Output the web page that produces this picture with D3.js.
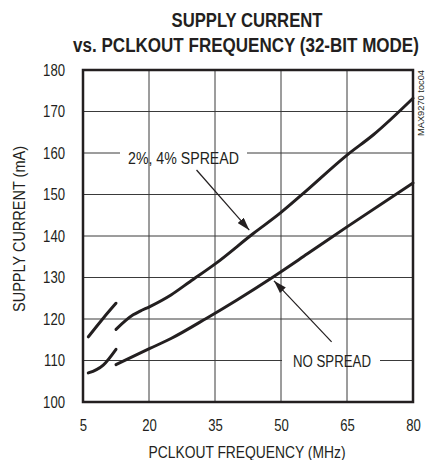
<!DOCTYPE html>
<html>
<head>
<meta charset="utf-8">
<script src="https://cdn.jsdelivr.net/npm/d3@7"></script>
<style>
  body { margin: 0; background: #fff; }
  text { font-family: "Liberation Sans", Arial, sans-serif; fill: #231f20; }
</style>
</head>
<body>
<script>
const w = 426;
const h = 460;
const margin = {top: 70, right: 13, bottom: 58, left: 83};

// x ticks (MHz) and y ticks (mA)
const xTicks = [5, 20, 35, 50, 65, 80];
const yTicks = [100, 110, 120, 130, 140, 150, 160, 170, 180];

// 2%, 4% spread: two pieces
const spreadLow = [[6.2, 115.7], [9.6, 120.2], [12.5, 123.8]];
const spreadHigh = [[12.5, 117.5], [16.4, 121.0], [18, 121.9], [20.2, 123.0], [25, 125.8],
                    [29.3, 129.0], [35.2, 133.4], [43.7, 140.6], [49.8, 145.5], [55, 150.2],
                    [65, 159.5], [71, 164.4], [80, 173.2]];
// no spread: two pieces
const noLow = [[6.2, 107.0], [9.6, 108.9], [12.5, 112.7]];
const noHigh = [[12.5, 109.0], [20.2, 112.9], [25, 115.3], [33.1, 120.2], [40, 124.6],
                [48.3, 130.2], [56, 135.7], [65, 142.2], [80, 152.8]];

const svg = d3.select("body")
    .append("svg")
    .attr("width", w)
    .attr("height", h);

const xScale = d3.scaleLinear()
    .domain([5, 80])
    .range([margin.left, w - margin.right]);

const yScale = d3.scaleLinear()
    .domain([100, 180])
    .range([h - margin.bottom, margin.top]);

// squeeze text horizontally to look like a condensed face
function condense(sel, f) {
    sel.each(function() {
        const len = this.getComputedTextLength();
        d3.select(this).attr("textLength", len * f).attr("lengthAdjust", "spacingAndGlyphs");
    });
}

// title: squeezed with a transform so its box is the drawn width
function titleLine(txt, cx, y, width) {
    const t = svg.append("text")
        .attr("text-anchor", "middle")
        .attr("font-size", 20).attr("font-weight", "bold")
        .text(txt);
    const f = width / t.node().getComputedTextLength();
    t.attr("transform", "translate(" + cx + "," + y + ") scale(" + f + ",1)");
}
titleLine("SUPPLY CURRENT", 247, 27, 151);
titleLine("vs. PCLKOUT FREQUENCY (32-BIT MODE)", 246, 52, 346);

// grid
const grid = svg.append("g").attr("stroke", "#3a3a3a").attr("stroke-width", 1);
xTicks.slice(1, -1).forEach(function(t) {
    grid.append("line")
        .attr("x1", xScale(t)).attr("x2", xScale(t))
        .attr("y1", yScale(100)).attr("y2", yScale(180));
});
yTicks.slice(1, -1).forEach(function(t) {
    if (t == 160) {
        // broken by the "2%, 4% SPREAD" label
        grid.append("line").attr("x1", xScale(5)).attr("x2", 120)
            .attr("y1", yScale(t)).attr("y2", yScale(t));
        grid.append("line").attr("x1", 247).attr("x2", xScale(80))
            .attr("y1", yScale(t)).attr("y2", yScale(t));
    } else if (t == 110) {
        // broken by the "NO SPREAD" label
        grid.append("line").attr("x1", xScale(5)).attr("x2", 282)
            .attr("y1", yScale(t)).attr("y2", yScale(t));
        grid.append("line").attr("x1", 380).attr("x2", xScale(80))
            .attr("y1", yScale(t)).attr("y2", yScale(t));
    } else {
        grid.append("line")
            .attr("x1", xScale(5)).attr("x2", xScale(80))
            .attr("y1", yScale(t)).attr("y2", yScale(t));
    }
});

// frame
svg.append("rect")
    .attr("x", xScale(5)).attr("y", yScale(180))
    .attr("width", xScale(80) - xScale(5))
    .attr("height", yScale(100) - yScale(180))
    .attr("fill", "none").attr("stroke", "#231f20").attr("stroke-width", 2.5);

// axes (labels only)
const xAxis = d3.axisBottom(xScale).tickValues(xTicks).tickSize(0).tickPadding(18);
svg.append("g")
    .attr("class", "xaxis")
    .attr("transform", "translate(0," + yScale(100) + ")")
    .call(xAxis)
    .call(function(g) { g.select(".domain").remove(); })
    .selectAll("text").attr("font-size", 16).attr("font-family", null);

const yAxis = d3.axisLeft(yScale).tickValues(yTicks).tickSize(0).tickPadding(18);
svg.append("g")
    .attr("class", "yaxis")
    .attr("transform", "translate(" + xScale(5) + ",0)")
    .call(yAxis)
    .call(function(g) { g.select(".domain").remove(); })
    .selectAll("text").attr("font-size", 16).attr("font-family", null);

svg.selectAll(".xaxis text, .yaxis text").style("fill", "#231f20");
condense(svg.selectAll(".xaxis text, .yaxis text"), 0.82);

// axis titles
svg.append("text")
    .attr("x", 247).attr("y", 458)
    .attr("text-anchor", "middle").attr("font-size", 16)
    .attr("textLength", 197).attr("lengthAdjust", "spacingAndGlyphs")
    .text("PCLKOUT FREQUENCY (MHz)");
svg.append("text")
    .attr("transform", "translate(25,229) rotate(-90)")
    .attr("text-anchor", "middle").attr("font-size", 16)
    .attr("textLength", 166).attr("lengthAdjust", "spacingAndGlyphs")
    .text("SUPPLY CURRENT (mA)");

// side code
svg.append("text")
    .attr("transform", "translate(424,103) rotate(-90)")
    .attr("text-anchor", "middle").attr("font-size", 8.5)
    .attr("textLength", 66).attr("lengthAdjust", "spacingAndGlyphs")
    .text("MAX9270 toc04");

// curves
const line = d3.line()
    .x(function(d) { return xScale(d[0]); })
    .y(function(d) { return yScale(d[1]); })
    .curve(d3.curveMonotoneX);

[spreadLow, spreadHigh, noLow, noHigh].forEach(function(s) {
    svg.append("path")
        .datum(s)
        .attr("d", line)
        .attr("fill", "none")
        .attr("stroke", "#231f20")
        .attr("stroke-width", 3)
        .attr("stroke-linecap", "round");
});

// annotations
svg.append("defs").append("marker")
    .attr("id", "arrow")
    .attr("viewBox", "0 0 13 8")
    .attr("refX", 13).attr("refY", 4)
    .attr("markerWidth", 13).attr("markerHeight", 8)
    .attr("markerUnits", "userSpaceOnUse")
    .attr("orient", "auto")
    .append("path").attr("d", "M0,0 L13,4 L0,8 Z").attr("fill", "#231f20");

svg.append("line")
    .attr("x1", xScale(30.8)).attr("y1", yScale(155.9))
    .attr("x2", xScale(42.8)).attr("y2", yScale(141.4))
    .attr("stroke", "#231f20").attr("stroke-width", 1.2)
    .attr("marker-end", "url(#arrow)");
svg.append("line")
    .attr("x1", xScale(61.5)).attr("y1", yScale(114.5))
    .attr("x2", xScale(48.4)).attr("y2", yScale(129.2))
    .attr("stroke", "#231f20").attr("stroke-width", 1.2)
    .attr("marker-end", "url(#arrow)");

svg.append("text")
    .attr("x", 128).attr("y", 164)
    .attr("font-size", 16)
    .attr("textLength", 111).attr("lengthAdjust", "spacingAndGlyphs")
    .text("2%, 4% SPREAD");
svg.append("text")
    .attr("x", 293).attr("y", 367)
    .attr("font-size", 16)
    .attr("textLength", 78).attr("lengthAdjust", "spacingAndGlyphs")
    .text("NO SPREAD");
</script>
</body>
</html>
